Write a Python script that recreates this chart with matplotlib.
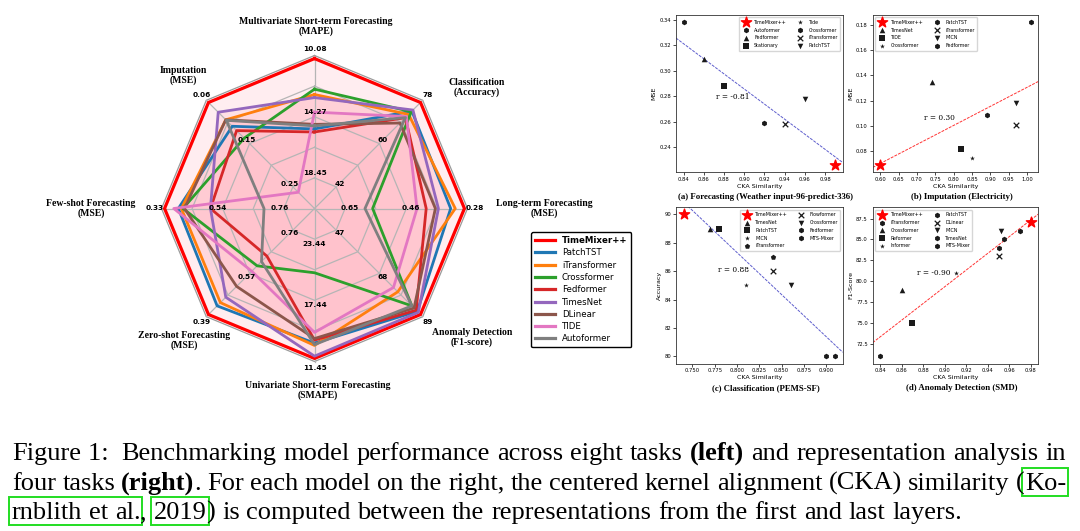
import numpy as np
import matplotlib.pyplot as plt
from matplotlib.lines import Line2D
from matplotlib.patches import Rectangle
from matplotlib.ticker import MultipleLocator, FormatStrFormatter

# ---------------- radar data (normalised score per task, 1 = best) ----------------
tasks = ['Multivariate Short-term Forecasting\n(MAPE)', 'Classification\n(Accuracy)',
         'Long-term Forecasting\n(MSE)', 'Anomaly Detection\n(F1-score)',
         'Univariate Short-term Forecasting\n(SMAPE)', 'Zero-shot Forecasting\n(MSE)',
         'Few-shot Forecasting\n(MSE)', 'Imputation\n(MSE)']
task_ticks = [['18.45', '14.27', '10.08'], ['42', '60', '78'], ['0.65', '0.46', '0.28'],
              ['47', '68', '89'], ['23.44', '17.44', '11.45'], ['0.76', '0.57', '0.39'],
              ['0.76', '0.54', '0.33'], ['0.25', '0.15', '0.06']]
tick_levels = [0.2, 0.6, 1.0]
# label centre of each task name (radar units)
label_pos = [(0.01, 1.19), (1.06, 0.79), (1.50, 0.0), (1.03, -0.84),
             (0.02, -1.19), (-0.85, -0.86), (-1.46, 0.0), (-0.86, 0.87)]

models = ['TimeMixer++', 'PatchTST', 'iTransformer', 'Crossformer', 'Fedformer',
          'TimesNet', 'DLinear', 'TIDE', 'Autoformer']
model_colors = ['red', 'tab:blue', 'tab:orange', 'tab:green', 'tab:red',
                'tab:purple', 'tab:brown', 'tab:pink', 'tab:gray']
timemixer = [0.98, 0.98, 0.98, 0.98, 0.98, 0.98, 0.98, 0.98]
patchtst = [0.52, 0.90, 0.89, 0.95, 0.88, 0.90, 0.89, 0.76]
itransformer = [0.745, 0.87, 0.92, 0.77, 0.895, 0.87, 0.87, 0.82]
crossformer = [0.78, 0.895, 0.38, 0.90, 0.42, 0.53, 0.86, 0.65]
fedformer = [0.50, 0.84, 0.73, 0.94, 0.86, 0.44, 0.68, 0.72]
timesnet = [0.725, 0.91, 0.81, 0.96, 0.965, 0.82, 0.68, 0.89]
dlinear = [0.55, 0.79, 0.79, 0.92, 0.85, 0.72, 0.85, 0.82]
tide = [0.63, 0.85, 0.67, 0.73, 0.81, 0.58, 0.92, 0.15]
autoformer = [0.54, 0.84, 0.33, 0.90, 0.89, 0.49, 0.33, 0.815]
scores = [timemixer, patchtst, itransformer, crossformer, fedformer,
          timesnet, dlinear, tide, autoformer]

# ---------------- CKA scatter data ----------------
fc_models = ['TimeMixer++', 'Autoformer', 'Fedformer', 'Stationary', 'Tide',
             'Crossformer', 'iTransformer', 'PatchTST']
fc_markers = ['*', 'h', '^', 's', '*', 'h', 'x', 'v']
fc_cka = [0.99, 0.84, 0.86, 0.88, 0.88, 0.92, 0.94, 0.96]
fc_mse = [0.226, 0.338, 0.309, 0.288, 0.288, 0.259, 0.258, 0.278]

im_models = ['TimeMixer++', 'TimesNet', 'TIDE', 'Crossformer', 'PatchTST',
             'iTransformer', 'MICN', 'Fedformer']
im_markers = ['*', '^', 's', '*', 'h', 'x', 'v', 'h']
im_cka = [0.60, 0.74, 0.82, 0.85, 0.89, 0.97, 0.97, 1.01]
im_mse = [0.069, 0.135, 0.082, 0.075, 0.109, 0.101, 0.118, 0.182]

cl_models = ['TimeMixer++', 'TimesNet', 'PatchTST', 'MICN', 'iTransformer',
             'Flowformer', 'Crossformer', 'Fedformer', 'MTS-Mixer']
cl_markers = ['*', '^', 's', '*', 'p', 'x', 'v', 'h', 'h']
cl_cka = [0.74, 0.77, 0.78, 0.81, 0.84, 0.84, 0.86, 0.90, 0.91]
cl_acc = [90, 89, 89, 85, 87, 86, 85, 80, 80]

ad_models = ['TimeMixer++', 'iTransformer', 'Crossformer', 'Reformer', 'Informer',
             'PatchTST', 'DLinear', 'MICN', 'TimesNet', 'MTS-Mixer']
ad_markers = ['*', 'h', '^', 's', '*', 'h', 'x', 'v', 'h', 'h']
ad_cka = [0.98, 0.84, 0.86, 0.87, 0.91, 0.955, 0.95, 0.952, 0.95, 0.97]
ad_f1 = [87.1, 71, 79, 75, 81, 85, 83, 86, 84, 86]
ad_ylim = (70.15, 88.85)

W, H = 1080, 531
fig = plt.figure(figsize=(W / 100, H / 100), dpi=100)
serif = 'Liberation Serif'

# ---------------- radar ----------------
cx, cy, unit, half = 314.5, 208.5, 153, 1.4
axr = fig.add_axes([(cx - unit * half) / W, (H - cy - unit * half) / H,
                    2 * half * unit / W, 2 * half * unit / H])
axr.set_xlim(-half, half)
axr.set_ylim(-half, half)
axr.axis('off')
angles = np.pi / 2 - np.arange(len(tasks)) * np.pi / 4
ca, sa = np.cos(angles), np.sin(angles)

for r in [0.2, 0.4, 0.6, 0.8, 1.0]:
    axr.plot(np.append(r * ca, r * ca[0]), np.append(r * sa, r * sa[0]),
             color='#b5b5b5' if r < 1 else '#9a9a9a', lw=0.9, zorder=2)
for a, b in zip(ca, sa):
    axr.plot([0, a], [0, b], color='#b5b5b5', lw=0.9, zorder=2)

for name, col, vals in zip(models, model_colors, scores):
    v = np.array(vals)
    xs, ys = np.append(v * ca, v[0] * ca[0]), np.append(v * sa, v[0] * sa[0])
    axr.fill(xs, ys, color='pink', alpha=0.28, lw=0, zorder=1)
    axr.plot(xs, ys, color=col, lw=2.3 if name == 'TimeMixer++' else 2.0,
             label=name, zorder=3)

for i in range(len(tasks)):
    for lvl, txt in zip(tick_levels, task_ticks[i]):
        rr = lvl + (0.045 if lvl == 1.0 else 0.03)
        axr.text(rr * ca[i], rr * sa[i], txt, fontsize=5.3, fontweight='bold',
                 ha='center', va='center', zorder=5)
    axr.text(label_pos[i][0], label_pos[i][1], tasks[i], family=serif,
             fontweight='bold', fontsize=7, ha='center', va='center',
             multialignment='center', linespacing=1.05)

handles = [Line2D([], [], color=c, lw=2.3) for c in model_colors]
leg = fig.legend(handles, models, loc='upper left',
                 bbox_to_anchor=(527 / W, 1 - 228 / H), fontsize=6.2,
                 handlelength=2.3, labelspacing=0.38, borderpad=0.45,
                 handletextpad=0.8, fancybox=True, framealpha=1)
leg.get_frame().set_edgecolor('black')
leg.get_frame().set_linewidth(1.0)
leg.get_texts()[0].set_fontweight('bold')


# ---------------- scatter panels ----------------
def panel(box, names, markers, xs, ys, ylabel, line_color, r_text, r_xy, loc, caption,
          ylim=None, xstep=None):
    x0, y0, x1, y1 = box
    ax = fig.add_axes([x0 / W, 1 - y1 / H, (x1 - x0) / W, (y1 - y0) / H])
    for n, m, x, y in zip(names, markers, xs, ys):
        if n == 'TimeMixer++':
            ax.scatter(x, y, marker='*', s=60, color='red', label=n, zorder=4)
        else:
            ax.scatter(x, y, marker=m, s=16 if m != '*' else 13,
                       color='#1a1a1a', linewidths=0.9 if m == 'x' else 0,
                       label=n, zorder=3)
    if ylim is not None:
        ax.set_ylim(ylim)
    if xstep is not None:
        ax.xaxis.set_major_locator(MultipleLocator(xstep))
        ax.xaxis.set_major_formatter(FormatStrFormatter('%.2f'))
    xl, yl = ax.get_xlim(), ax.get_ylim()
    coef = np.polyfit(xs, ys, 1)
    xx = np.array(xl)
    ax.plot(xx, np.polyval(coef, xx), color=line_color, lw=0.7, ls=(0, (3, 1.2)),
            alpha=0.8, zorder=2)
    ax.set_xlim(xl)
    ax.set_ylim(yl)
    ax.text(r_xy[0], r_xy[1], r_text, family='DejaVu Serif', fontsize=5.3,
            va='center')
    ax.set_xlabel('CKA Similarity', fontsize=4.6, labelpad=1)
    ax.set_ylabel(ylabel, fontsize=4.6, labelpad=2)
    ax.tick_params(labelsize=3.8, length=2, width=0.5, pad=1.5)
    for s in ax.spines.values():
        s.set_linewidth(0.6)
        s.set_color('#333333')
    ax.legend(loc=loc, ncol=2, fontsize=3.4, borderpad=0.5, labelspacing=0.6,
              handletextpad=0.8, columnspacing=1.8, scatterpoints=1)
    fig.text((x0 + x1) / 2 / W + 0.006, 1 - (y1 + 25) / H, caption, family=serif,
             fontweight='bold', fontsize=6.3, ha='center', va='center')
    return ax


panel((676, 15, 842.7, 172.3), fc_models, fc_markers, fc_cka, fc_mse, 'MSE',
      '#3535c0', 'r = -0.81', (0.872, 0.279), 'upper right',
      '(a) Forecasting (Weather input-96-predict-336)')
panel((872.7, 15, 1038.3, 172.3), im_models, im_markers, im_cka, im_mse, 'MSE',
      'red', 'r = 0.30', (0.72, 0.106), 'upper left',
      '(b) Imputation (Electricity)', xstep=0.05)
panel((676, 207.3, 842.7, 363.5), cl_models, cl_markers, cl_cka, cl_acc, 'Accuracy',
      '#3535c0', 'r = 0.88', (0.779, 86.1), 'upper right',
      '(c) Classification (PEMS-SF)')
panel((872.7, 207.3, 1038.3, 363.5), ad_models, ad_markers, ad_cka, ad_f1, 'F1-Score',
      'red', 'r = -0.90', (0.874, 81.0), 'upper left',
      '(d) Anomaly Detection (SMD)', ylim=ad_ylim)

# ---------------- caption ----------------
caption_lines = [
    [[('Figure', 0)], [('1:\u2009', 0)], [('Benchmarking', 0)], [('model', 0)],
     [('performance', 0)], [('across', 0)], [('eight', 0)], [('tasks', 0)],
     [('(left)', 1)], [('and', 0)], [('representation', 0)], [('analysis', 0)],
     [('in', 0)]],
    [[('four', 0)], [('tasks', 0)], [('(right)', 1), ('.', 0)], [('For', 0)],
     [('each', 0)], [('model', 0)], [('on', 0)], [('the', 0)], [('right,', 0)],
     [('the', 0)], [('centered', 0)], [('kernel', 0)], [('alignment', 0)],
     [('(CKA)', 0)], [('similarity', 0)], [('(', 0), ('Ko-', 0)]],
    [[('rnblith', 0)], [('et', 0)], [('al.', 0), (',', 0)], [('2019', 0), (')', 0)],
     [('is', 0)], [('computed', 0)], [('between', 0)], [('the', 0)],
     [('representations', 0)], [('from', 0)], [('the', 0)], [('first', 0)],
     [('and', 0)], [('last', 0)], [('layers.', 0)]],
]
baselines = [460, 490, 519]
boxed = {(1, 15, 1), (2, 0, 0), (2, 1, 0), (2, 2, 0), (2, 3, 0)}
renderer = fig.canvas.get_renderer()


def seg_width(txt, bold, fs):
    t = fig.text(0, 0, txt, family=serif, fontsize=fs,
                 fontweight='bold' if bold else 'normal')
    w = t.get_window_extent(renderer).width
    t.remove()
    return w


base_fs = 16
space = seg_width('a a', 0, base_fs) - seg_width('aa', 0, base_fs)
nat3 = sum(seg_width(s, b, base_fs) for wd in caption_lines[2] for s, b in wd)
nat3 += space * (len(caption_lines[2]) - 1)
fs = base_fs * (958 - 12) / nat3

for li, line in enumerate(caption_lines):
    widths = [[seg_width(s, b, fs) for s, b in wd] for wd in line]
    total = sum(sum(w) for w in widths)
    if li < 2:
        gap = (1066 - 12 - total) / (len(line) - 1)
    else:
        gap = space * fs / base_fs
    x = 12
    box_spans = []
    for wi, (wd, ws) in enumerate(zip(line, widths)):
        for si, ((s, b), w) in enumerate(zip(wd, ws)):
            fig.text(x / W, 1 - baselines[li] / H, s, family=serif, fontsize=fs,
                     fontweight='bold' if b else 'normal', va='baseline')
            if (li, wi, si) in boxed:
                box_spans.append((x, x + w))
            x += w
        x += gap
    # merge "rnblith et al." into one box
    if li == 2:
        box_spans = [(box_spans[0][0], box_spans[2][1]), box_spans[3]]
    for a, b in box_spans:
        fig.add_artist(Rectangle(((a - 3) / W, 1 - (baselines[li] + 6) / H),
                                 (b - a + 5) / W, 28 / H, transform=fig.transFigure,
                                 fill=False, edgecolor='#22dd22', lw=1.4))

fig.savefig('out.png', dpi=100, facecolor='white')
